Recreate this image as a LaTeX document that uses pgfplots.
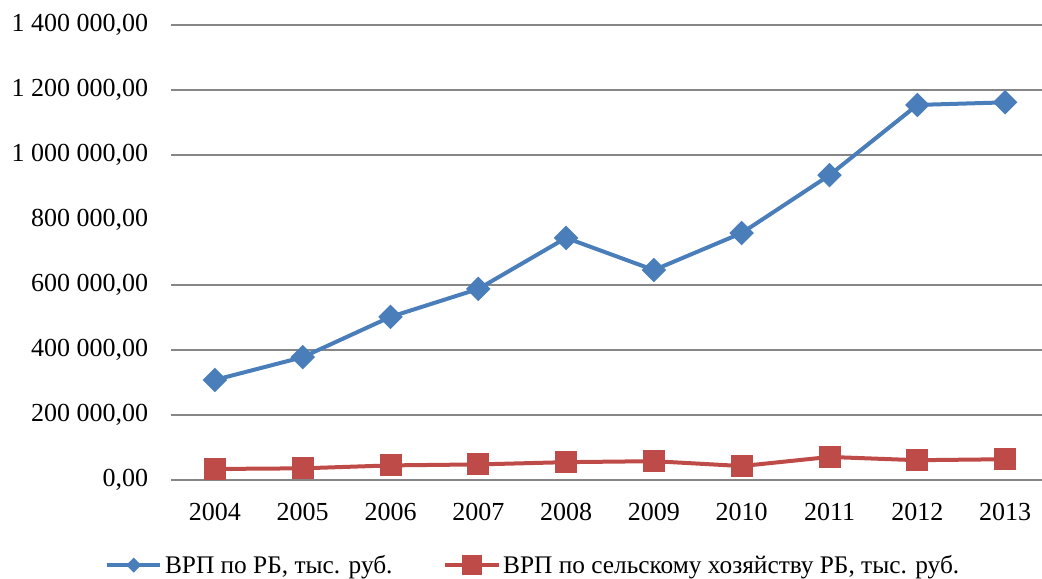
\documentclass[border=0pt]{standalone}
\usepackage{pgfplots}
\pgfplotsset{compat=1.18}
\usepackage{fontspec}
\setmainfont{Liberation Serif}
\definecolor{cblue}{HTML}{4A7EBB}
\definecolor{cred}{HTML}{BE4B48}
\definecolor{cgrid}{HTML}{868686}
\pgfplotsset{
  blueleg/.style={legend image code/.code={\draw[mark repeat=2,mark phase=2,##1,line width=3pt, mark size=2.5pt] plot coordinates {(0pt,0pt) (20pt,0pt) (40pt,0pt)};}},
  redleg/.style={legend image code/.code={\draw[mark repeat=2,mark phase=2,##1,line width=3pt, mark size=6pt] plot coordinates {(0pt,0pt) (20pt,0pt) (40pt,0pt)};}},
}
\begin{document}
\begin{tikzpicture}
\begin{axis}[
  scale only axis,
  width=653.2pt, height=341.25pt,
  xmin=-0.5, xmax=9.42,
  ymin=0, ymax=1400000,
  scaled y ticks=false,
  axis line style={draw=none},
  tick style={draw=none},
  xtick={0,...,9},
  xticklabels={2004,2005,2006,2007,2008,2009,2010,2011,2012,2013},
  ytick={0,200000,400000,600000,1000000,1200000,1400000},
  yticklabels={{0,00},{200~000,00},{400~000,00},{600~000,00},{1~000~000,00},{1~200~000,00},{1~400~000,00}},
  yticklabel style={inner sep=0pt, anchor=east, xshift=-17pt},
  xticklabel style={inner sep=0pt, anchor=north, yshift=-17pt},
  ticklabel style={font=\fontsize{19.5}{21}\selectfont},
  ymajorgrids=true,
  major grid style={draw=cgrid, line width=1pt},
  extra y ticks={800000},
  extra y tick labels={800~000{,}00},
  extra y tick style={grid=none},
  clip=false,
  legend columns=2,
  legend style={at={(-0.076,-0.187)}, anchor=west, draw=none, fill=none, inner sep=0pt,
    font=\fontsize{19}{21}\selectfont,
    /tikz/every even column/.append style={column sep=36pt},
    nodes={inner sep=2pt}},
]
\addplot[cblue, line width=3pt, mark=square*, mark size=5pt, mark options={rotate=45, solid}, blueleg]
  coordinates {(0,308000) (1,378000) (2,502000) (3,588000) (4,745000) (5,646000) (6,760000) (7,938000) (8,1154000) (9,1162000)};
\addlegendentry{ВРП по РБ, тыс. руб.}
\addplot[cred, line width=3pt, mark=square*, mark size=6.75pt, mark options={solid}, redleg]
  coordinates {(0,34000) (1,36000) (2,45000) (3,48000) (4,55000) (5,58000) (6,43000) (7,71000) (8,61000) (9,64000)};
\addlegendentry{ВРП по сельскому хозяйству РБ, тыс. руб.}
\end{axis}
\pgfresetboundingbox
\path[use as bounding box] ([shift={(-128.25pt,-73.5pt)}]current axis.south west) rectangle ([shift={(0pt,18.75pt)}]current axis.north east);
\end{tikzpicture}
\end{document}
